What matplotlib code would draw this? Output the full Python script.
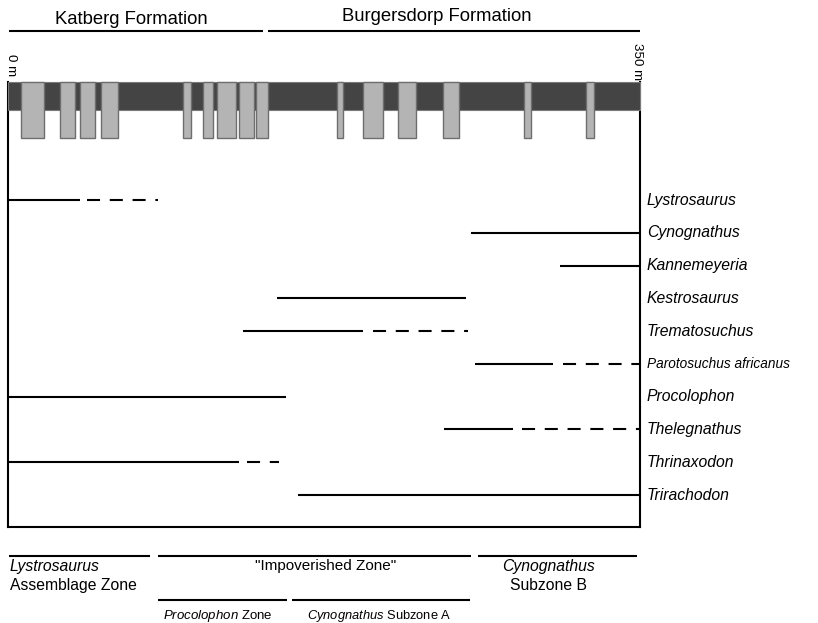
import matplotlib
matplotlib.use("Agg")
import matplotlib.pyplot as plt
from matplotlib.patches import Rectangle

plt.rcParams['font.family'] = ['Liberation Sans', 'DejaVu Sans']
plt.rcParams['mathtext.fontset'] = 'custom'
plt.rcParams['mathtext.rm'] = 'Liberation Sans'
plt.rcParams['mathtext.it'] = 'Liberation Sans:italic'
plt.rcParams['lines.scale_dashes'] = False

SECTION_TOP = 350  # metres

# sandstone bodies in the measured section (base, top), metres
sandstone_base = [7.2, 29.0, 39.9, 51.5, 97.1, 107.8, 115.7, 127.9, 137.5,
                  182.4, 196.4, 216.0, 241.1, 285.9, 320.1]
sandstone_top = [20.1, 37.3, 48.2, 61.1, 101.3, 113.7, 126.1, 136.1, 143.8,
                 185.7, 207.8, 225.8, 249.8, 289.5, 324.4]

# stratigraphic ranges of taxa (metres above base)
taxa = ["Lystrosaurus", "Cynognathus", "Kannemeyeria", "Kestrosaurus",
        "Trematosuchus", "Parotosuchus africanus", "Procolophon",
        "Thelegnathus", "Thrinaxodon", "Trirachodon"]
range_start = [0, 256.2, 305.7, 149.1, 130.3, 258.6, 0, 241.5, 0, 160.4]
range_end = [39.9, 350, 350, 253.5, 196.4, 301.8, 154.0, 279.5, 127.8, 350]
# uncertain (dashed) range extensions
extension_start = [43.9, None, None, None, 202.1, 307.4, None, 284.5, 132.2, None]
extension_end = [83.2, None, None, None, 254.7, 350, None, 350, 150.2, None]

# lithostratigraphy
formations = ["Katberg Formation", "Burgersdorp Formation"]
formation_base = [0.7, 144.2]
formation_top = [141.4, 350]

# biostratigraphy
upper_zone_start = [0.7, 82.9, 260.1]
upper_zone_end = [78.6, 256.4, 348.2]
lower_zone_start = [82.9, 157.4]
lower_zone_end = [154.3, 255.9]

W, H = 818, 623
fig = plt.figure(figsize=(W / 100, H / 100), dpi=100)

# ---- main panel: section column and taxon ranges ----
ax = fig.add_axes([8 / W, (H - 527) / H, 632 / W, 445 / H])
ax.set_xlim(0, SECTION_TOP)
ax.set_ylim(9.976, -3.600)
ax.set_xticks([])
ax.set_yticks([])
ax.spines['top'].set_visible(False)
for side in ('left', 'right', 'bottom'):
    ax.spines[side].set_linewidth(1.5)

col = ax.get_xaxis_transform()
band_h = 28 / 445
block_h = 56 / 445
ax.add_patch(Rectangle((0, 1 - band_h), SECTION_TOP, band_h, transform=col,
                       facecolor='#444444', edgecolor='#7a7a7a', lw=0.8,
                       clip_on=False, zorder=3))
for b, t in zip(sandstone_base, sandstone_top):
    ax.add_patch(Rectangle((b, 1 - block_h), t - b, block_h, transform=col,
                           facecolor='#b4b4b4', edgecolor='#6e6e6e', lw=1.0,
                           clip_on=False, zorder=4))

dash = (0, (9.4, 7.0))
for i, name in enumerate(taxa):
    ax.plot([range_start[i], range_end[i]], [i, i], color='black', lw=1.5,
            solid_capstyle='butt', zorder=2)
    if extension_start[i] is not None:
        ax.plot([extension_start[i], extension_end[i]], [i, i], color='black',
                lw=1.5, linestyle=dash, dash_capstyle='butt', zorder=2)
    size = 9.8 if len(name) > 16 else 11.3
    ax.text(1.011, i, name, transform=ax.get_yaxis_transform(), ha='left',
            va='center', style='italic', fontsize=size)

# ---- header: formations and scale ----
hx = fig.add_axes([8 / W, (H - 82) / H, 632 / W, 82 / H])
hx.set_xlim(0, SECTION_TOP)
hx.set_ylim(0, 1)
hx.axis('off')
for b, t in zip(formation_base, formation_top):
    hx.plot([b, t], [0.622, 0.622], color='black', lw=1.5,
            solid_capstyle='butt', clip_on=False)
hx.text(68.4, 0.707, formations[0], ha='center', va='baseline', fontsize=13.3)
hx.text(237.6, 0.744, formations[1], ha='center', va='baseline', fontsize=13.3)
hx.text(1.7, 0.207, "0 m", rotation=-90, ha='center', va='center',
        fontsize=9.6, clip_on=False)
hx.text(348.3, 0.25, "350 m", rotation=-90, ha='center', va='center',
        fontsize=9.6, clip_on=False)

# ---- footer: biozones ----
bx = fig.add_axes([8 / W, 0, 632 / W, 96 / H])
bx.set_xlim(0, SECTION_TOP)
bx.set_ylim(0, 1)
bx.axis('off')
for s, e in zip(upper_zone_start, upper_zone_end):
    bx.plot([s, e], [0.698, 0.698], color='black', lw=1.5,
            solid_capstyle='butt', clip_on=False)
for s, e in zip(lower_zone_start, lower_zone_end):
    bx.plot([s, e], [0.240, 0.240], color='black', lw=1.5,
            solid_capstyle='butt', clip_on=False)

bx.text(1.1, 0.586, "Lystrosaurus", style='italic', ha='left', va='center',
        fontsize=11.3)
bx.text(1.1, 0.393, "Assemblage Zone", ha='left', va='center', fontsize=11.3)
bx.text(176.1, 0.594, '"Impoverished Zone"', ha='center', va='center',
        fontsize=11.0)
bx.text(299.1, 0.586, "Cynognathus", style='italic', ha='center', va='center',
        fontsize=11.3)
bx.text(299.1, 0.389, "Subzone B", ha='center', va='center', fontsize=11.3)
bx.text(116.0, 0.073, r"$\mathit{Procolophon}$ Zone", ha='center',
        va='center', fontsize=9.5)
bx.text(205.8, 0.073, r"$\mathit{Cynognathus}$ Subzone A", ha='center',
        va='center', fontsize=9.3)

fig.savefig("out.png", dpi=100)
